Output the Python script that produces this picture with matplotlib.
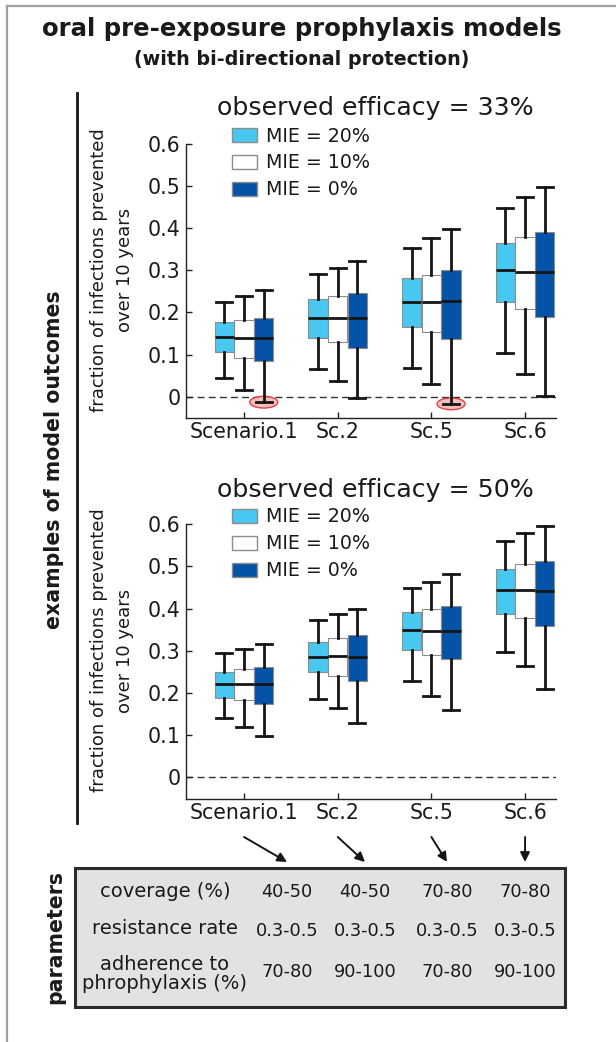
import matplotlib
matplotlib.use("Agg")
import matplotlib.pyplot as plt
from matplotlib.patches import Patch, Ellipse, Rectangle
from matplotlib.lines import Line2D
import numpy as np

plt.rcParams['font.family'] = ['DejaVu Sans']
plt.rcParams['text.color'] = '#1a1a1a'

W, H = 616, 1042
DPI = 100

scenarios = ["Scenario.1", "Sc.2", "Sc.5", "Sc.6"]
mie_labels = ["MIE = 20%", "MIE = 10%", "MIE = 0%"]
mie_colors = ["#48c8f0", "#ffffff", "#0553a6"]
yticks = [0, 0.1, 0.2, 0.3, 0.4, 0.5, 0.6]
ytick_labels = ["0", "0.1", "0.2", "0.3", "0.4", "0.5", "0.6"]

# box statistics, rows = scenario, columns = MIE 20/10/0 %
# observed efficacy = 33%
e33_lo = [[0.045, 0.017, -0.013], [0.066, 0.037, -0.002], [0.067, 0.030, -0.017], [0.103, 0.054, 0.002]]
e33_q1 = [[0.105, 0.093, 0.084], [0.140, 0.131, 0.116], [0.166, 0.154, 0.138], [0.226, 0.208, 0.190]]
e33_med = [[0.142, 0.140, 0.140], [0.188, 0.188, 0.188], [0.226, 0.226, 0.227], [0.301, 0.297, 0.297]]
e33_q3 = [[0.178, 0.182, 0.188], [0.231, 0.239, 0.247], [0.281, 0.289, 0.301], [0.366, 0.378, 0.391]]
e33_hi = [[0.226, 0.240, 0.253], [0.291, 0.306, 0.323], [0.352, 0.376, 0.399], [0.447, 0.474, 0.497]]
# observed efficacy = 50%
e50_lo = [[0.141, 0.119, 0.099], [0.185, 0.164, 0.129], [0.228, 0.194, 0.160], [0.297, 0.263, 0.209]]
e50_q1 = [[0.189, 0.183, 0.173], [0.249, 0.240, 0.228], [0.301, 0.289, 0.281], [0.388, 0.378, 0.359]]
e50_med = [[0.221, 0.221, 0.221], [0.286, 0.288, 0.286], [0.349, 0.346, 0.346], [0.445, 0.445, 0.443]]
e50_q3 = [[0.250, 0.257, 0.261], [0.322, 0.330, 0.337], [0.391, 0.398, 0.407], [0.494, 0.505, 0.513]]
e50_hi = [[0.296, 0.304, 0.317], [0.374, 0.388, 0.398], [0.450, 0.464, 0.481], [0.560, 0.579, 0.595]]

# parameter table
param_labels = ["coverage (%)", "resistance rate", "adherence to\nphrophylaxis (%)"]
coverage = ["40-50", "40-50", "70-80", "70-80"]
resistance = ["0.3-0.5", "0.3-0.5", "0.3-0.5", "0.3-0.5"]
adherence = ["70-80", "90-100", "70-80", "90-100"]

OFFSETS = [-0.21, 0.0, 0.21]
BOX_W = 0.205
INK = '#151515'


def px_axes(fig, x0, y0, x1, y1):
    return fig.add_axes([x0 / W, 1 - y1 / H, (x1 - x0) / W, (y1 - y0) / H])


def panel(fig, box, ylo, lo, q1, med, q3, hi, title, title_base, legend_top, label_y):
    ax = px_axes(fig, *box)
    pos = np.arange(1, len(scenarios) + 1)
    for j in range(3):
        stats = [dict(whislo=lo[i][j], q1=q1[i][j], med=med[i][j], q3=q3[i][j], whishi=hi[i][j])
                 for i in range(len(scenarios))]
        ax.bxp(stats, positions=pos + OFFSETS[j], widths=BOX_W, capwidths=0.17,
               patch_artist=True, showfliers=False, manage_ticks=False,
               boxprops=dict(facecolor=mie_colors[j], edgecolor='#8c8c8c', linewidth=0.8),
               medianprops=dict(color=INK, linewidth=2.0),
               whiskerprops=dict(color=INK, linewidth=2.0),
               capprops=dict(color=INK, linewidth=2.0))
        # circle the runs that fall below zero
        for i in range(len(scenarios)):
            if lo[i][j] < -0.01:
                ax.add_patch(Ellipse((pos[i] + OFFSETS[j], lo[i][j]), 0.3, 0.028,
                                     facecolor='#f2b3b3', edgecolor='#e0282a', lw=1.0,
                                     alpha=0.85, zorder=1.5))
    ax.axhline(0, color='#333333', lw=1.0, ls=(0, (5, 3)), zorder=0.5)
    ax.set_xlim(0.38, 4.33)
    ax.set_ylim(ylo, 0.6)
    ax.set_xticks(pos)
    ax.set_xticklabels(scenarios, fontsize=14.8, color='#1a1a1a')
    ax.set_yticks(yticks)
    ax.set_yticklabels(ytick_labels, fontsize=14.8, color='#1a1a1a')
    ax.tick_params(axis='both', direction='in', length=4.5, width=1.0, color='#222222')
    ax.tick_params(axis='x', pad=3)
    ax.tick_params(axis='y', pad=4)
    for s in ('top', 'right'):
        ax.spines[s].set_visible(False)
    for s in ('left', 'bottom'):
        ax.spines[s].set_linewidth(1.0)
        ax.spines[s].set_color('#222222')
    ax.patch.set_alpha(0)

    handles = [Patch(facecolor=c, edgecolor='#8c8c8c', lw=1.0) for c in mie_colors]
    ax.legend(handles, mie_labels, loc='upper left', bbox_to_anchor=(232 / W, 1 - legend_top / H),
              bbox_transform=fig.transFigure, frameon=False, fontsize=13.7,
              handlelength=1.3, handleheight=0.77, handletextpad=0.5, labelspacing=0.42,
              borderaxespad=0, borderpad=0)

    fig.text(375.5 / W, 1 - title_base / H, title, ha='center', va='baseline', fontsize=18.2)
    fig.text(112 / W, 1 - label_y / H, "fraction of infections prevented\nover 10 years",
             rotation=90, ha='center', va='center', multialignment='center',
             fontsize=13, linespacing=1.5)
    return ax


fig = plt.figure(figsize=(W / DPI, H / DPI), dpi=DPI)

ax1 = panel(fig, (186, 144, 556, 418.3), -0.0513, e33_lo, e33_q1, e33_med, e33_q3, e33_hi,
            "observed efficacy = 33%", 115, 126.5, 270)
ax2 = panel(fig, (186, 524.3, 556, 799.3), -0.052, e50_lo, e50_q1, e50_med, e50_q3, e50_hi,
            "observed efficacy = 50%", 496.7, 507.5, 650.5)

# headings
fig.text(302 / W, 1 - 36 / H, "oral pre-exposure prophylaxis models", ha='center', va='baseline',
         fontsize=17.6, fontweight='bold')
fig.text(302 / W, 1 - 65 / H, "(with bi-directional protection)", ha='center', va='baseline',
         fontsize=13.8, fontweight='bold')
fig.text(54 / W, 1 - 460 / H, "examples of model outcomes", rotation=90, ha='center', va='center',
         fontsize=14.8, fontweight='bold')
fig.text(55 / W, 1 - 937 / H, "parameters", rotation=90, ha='center', va='center',
         fontsize=14.8, fontweight='bold')

# outer frame and bracket line
fig.add_artist(Line2D([7 / W, 1], [1 - 6 / H, 1 - 6 / H], color='#a0a0a0', lw=1.6))
fig.add_artist(Line2D([7 / W, 7 / W], [1 - 6 / H, 0], color='#a0a0a0', lw=1.6))
fig.add_artist(Line2D([77 / W, 77 / W], [1 - 93 / H, 1 - 823 / H], color=INK, lw=2.0))

# parameter table
fig.add_artist(Rectangle((75 / W, 1 - 1006.7 / H), (565 - 75) / W, (1006.7 - 868) / H,
                         transform=fig.transFigure, facecolor='#e2e2e2', edgecolor='#2b2b2b', lw=2.2))
col_x = [287, 365, 447, 525]
row_base = [897, 936, 976.7]
label_base = [897, 934, 989.3]
for r, vals in enumerate([coverage, resistance, adherence]):
    fig.text(165 / W, 1 - label_base[r] / H, param_labels[r], ha='center', va='baseline',
             fontsize=14, multialignment='center', linespacing=1.0)
    for cx, v in zip(col_x, vals):
        fig.text(cx / W, 1 - row_base[r] / H, v, ha='center', va='baseline', fontsize=12.8)

# arrows from the scenario labels down to the table columns
for p, cx in zip(range(1, len(scenarios) + 1), col_x):
    sx = ax2.transData.transform((p, 0))[0]
    ax2.annotate("", xy=(cx, H - 862), xytext=(sx, H - 837),
                 xycoords='figure pixels', textcoords='figure pixels', annotation_clip=False,
                 arrowprops=dict(arrowstyle='-|>', color=INK, lw=1.4, mutation_scale=14,
                                 shrinkA=0, shrinkB=0))

fig.savefig("out.png", dpi=DPI)
